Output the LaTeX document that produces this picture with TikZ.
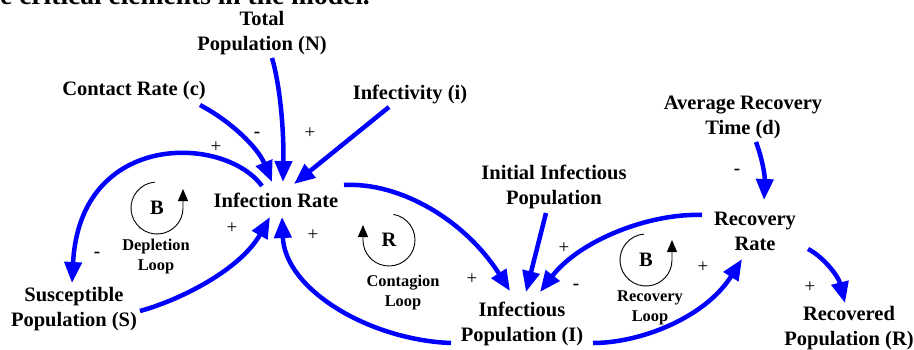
\documentclass[tikz,border=0pt]{standalone}
\usepackage{fontspec}
\setmainfont{Liberation Serif}
\usetikzlibrary{arrows.meta}
\definecolor{linkblue}{RGB}{0,0,255}
\begin{document}
\begin{tikzpicture}[x=1pt,y=-1pt,
  var/.style={font=\fontsize{20.5}{25}\selectfont\bfseries, align=center, inner sep=0pt},
  looplbl/.style={font=\fontsize{16.4}{20}\selectfont\bfseries, align=center, inner sep=0pt},
  loopsym/.style={font=\fontsize{20.5}{25}\selectfont\bfseries, inner sep=0pt},
  plussign/.style={font=\fontsize{19}{20}\selectfont, inner sep=0pt},
  minussign/.style={font=\fontsize{19}{20}\selectfont\bfseries, inner sep=0pt},
  link/.style={draw=linkblue, line width=4.5pt, -{Triangle[length=21pt,width=17pt]}},
  loopar/.style={draw=black, line width=0.9pt, -{Triangle[length=12pt,width=10pt]}},
]
\useasboundingbox (0,0) rectangle (914,349);
\begin{scope}
\clip (0,0) rectangle (914,349);
\node[anchor=base west, inner sep=0pt, font=\fontsize{27.5}{30}\selectfont\bfseries] (cuttext) at (0,4) {e critical elements in the model.};
\end{scope}

% variables
\node[var] (contact) at (134,91) {Contact Rate (c)};
\node[var] (total) at (262,33) {Total\\Population (N)};
\node[var] (infect) at (410,94) {Infectivity (i)};
\node[var] (infrate) at (276,200) {Infection Rate};
\node[var] (susc) at (74,309) {Susceptible\\Population (S)};
\node[var] (infpop) at (522,324) {Infectious\\Population (I)};
\node[var] (initial) at (554,187) {Initial Infectious\\Population};
\node[var] (avgtime) at (743,117) {Average Recovery\\Time (d)};
\node[var] (recrate) at (755,231) {Recovery\\Rate};
\node[var] (recovered) at (849,328) {Recovered\\Population (R)};

% links
\draw[link] ([shift={(66,14)}]contact.center) .. controls (232,122) and (258,148) .. ([shift={(-4,-18)}]infrate.center);
\draw[link] ([shift={(10,25)}]total.center) .. controls (280,85) and (284,130) .. ([shift={(7,-18)}]infrate.center);
\draw[link] ([shift={(-21,13)}]infect.center) -- ([shift={(18,-16)}]infrate.center);
\draw[link] ([shift={(-14,-14)}]infrate.center) .. controls (225,135) and (80,130) .. ([shift={(-2,-26)}]susc.center);
\draw[link] ([shift={(66,2)}]susc.center) .. controls (180,300) and (240,270) .. ([shift={(-6,17)}]infrate.center);
\draw[link] ([shift={(68,-15)}]infrate.center) .. controls (400,182) and (465,220) .. ([shift={(-12,-33)}]infpop.center);
\draw[link] ([shift={(-71,19)}]infpop.center) .. controls (370,340) and (285,290) .. ([shift={(6,17)}]infrate.center);
\draw[link] ([shift={(-8,26)}]initial.center) -- ([shift={(4,-32)}]infpop.center);
\draw[link] ([shift={(-53,-16)}]recrate.center) .. controls (650,213) and (580,240) .. ([shift={(18,-32)}]infpop.center);
\draw[link] ([shift={(71,19)}]infpop.center) .. controls (640,343) and (705,318) .. ([shift={(-13,28)}]recrate.center);
\draw[link] ([shift={(13,25)}]avgtime.center) .. controls (762,158) and (765,175) .. ([shift={(9,-31)}]recrate.center);
\draw[link] ([shift={(53,18)}]recrate.center) .. controls (822,256) and (838,275) .. ([shift={(-4,-25)}]recovered.center);

% polarities
\node[plussign] (p1) at (216,147) {+};
\node[minussign] (p2) at (257,135) {-};
\node[plussign] (p3) at (310,133) {+};
\node[minussign] (p4) at (97,255) {-};
\node[plussign] (p5) at (232,228) {+};
\node[plussign] (p6) at (313,235) {+};
\node[plussign] (p7) at (472,279) {+};
\node[plussign] (p8) at (564,248) {+};
\node[minussign] (p9) at (576,287) {-};
\node[plussign] (p10) at (703,267) {+};
\node[minussign] (p11) at (737,172) {-};
\node[plussign] (p12) at (810,287) {+};

% loops
\node[loopsym] (loopD) at (157,208) {B};
\node[loopsym] (loopC) at (389,240) {R};
\node[loopsym] (loopR) at (646,260) {B};
\draw[loopar] ([shift={(95:26pt)}]loopD.center) arc[start angle=95, end angle=360, radius=26pt] -- ++(0pt,19pt);
\draw[loopar] ([shift={(80:26pt)}]loopC.center) arc[start angle=80, end angle=-180, radius=26pt] -- ++(0pt,15pt);
\draw[loopar] ([shift={(95:26pt)}]loopR.center) arc[start angle=95, end angle=360, radius=26pt] -- ++(0pt,20pt);
\node[looplbl] (lblD) at (156,257) {Depletion\\Loop};
\node[looplbl] (lblC) at (403,293) {Contagion\\Loop};
\node[looplbl] (lblR) at (650,308) {Recovery\\Loop};
\end{tikzpicture}
\end{document}
